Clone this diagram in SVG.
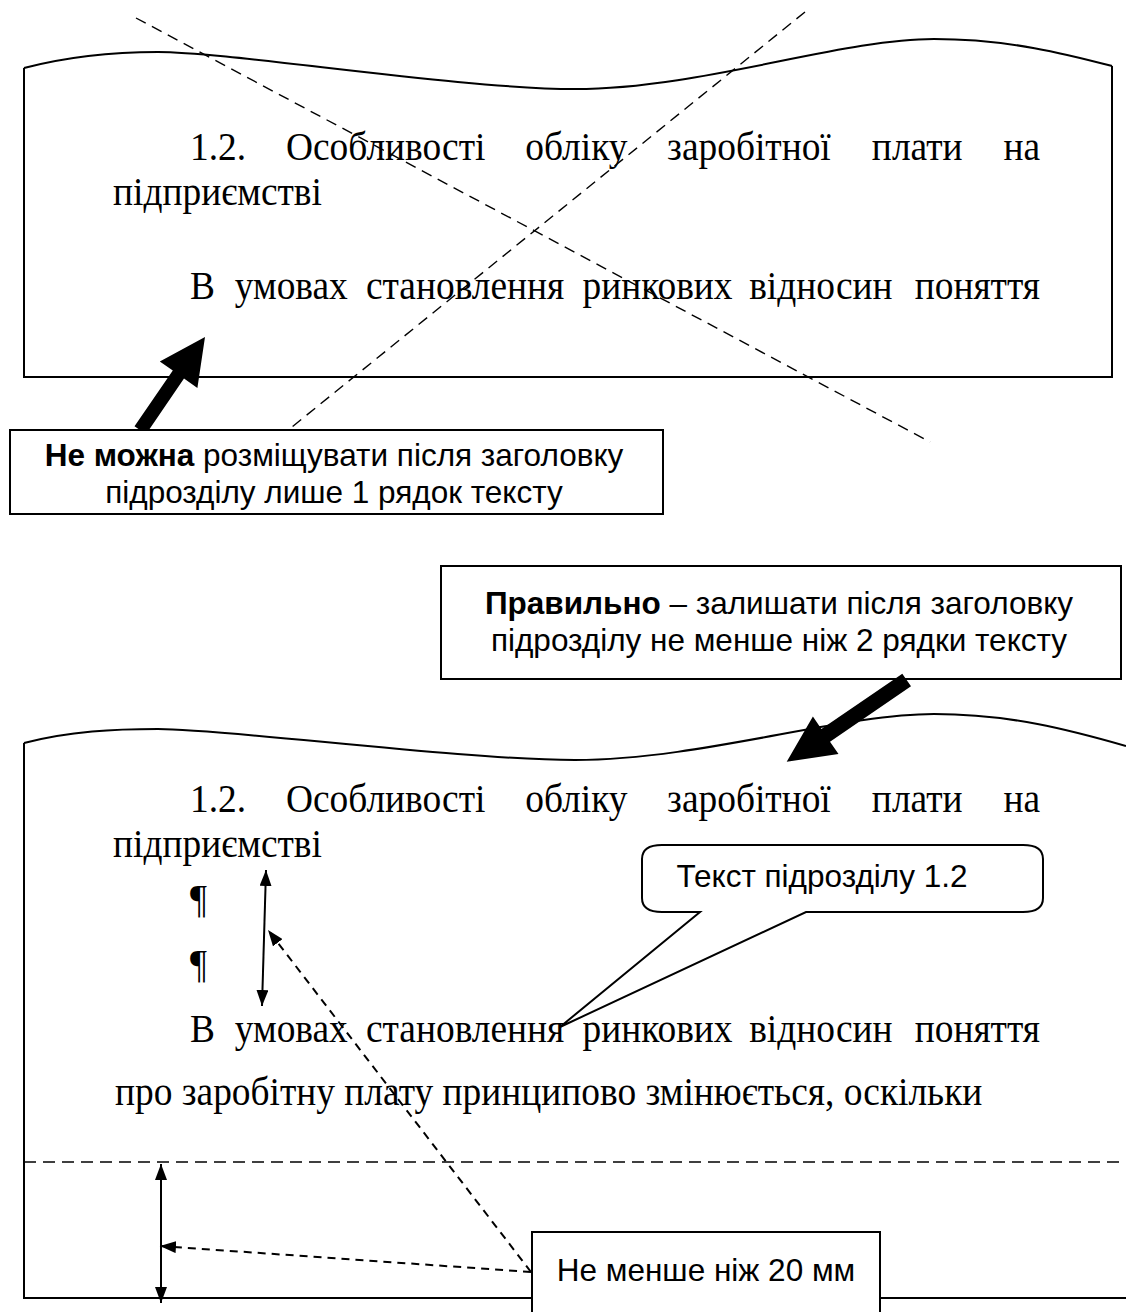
<svg xmlns="http://www.w3.org/2000/svg" width="1126" height="1312" viewBox="0 0 1126 1312">
<style>
.pg{fill:none;stroke:#000;stroke-width:2}
.box{fill:#fff;stroke:#000;stroke-width:2}
.xd{fill:none;stroke:#000;stroke-width:1.4;stroke-dasharray:11 7}
.body{font-family:"Liberation Serif","Times New Roman",serif;font-size:40px;fill:#000}
.lbl{font-family:"Liberation Sans",Arial,sans-serif;font-size:31.5px;fill:#000;text-anchor:middle}
.b{font-weight:bold}
.conn{fill:none;stroke:#000;stroke-width:2;stroke-dasharray:8 6}
.dbl{fill:none;stroke:#000;stroke-width:2}
</style>
<defs>
<marker id="ah" viewBox="0 0 16 12" refX="16" refY="6" markerWidth="16" markerHeight="12" markerUnits="userSpaceOnUse" orient="auto-start-reverse"><path d="M0,0 L16,6 L0,12 z" fill="#000"/></marker>
</defs>

<g id="page-wrong">
<path class="pg" d="M24,68 C70,56 115,52 158,52 C230,52 460,89 575,89 C700,89 840,39 934,39 C1010,39 1070,55 1112,66"/>
<path class="pg" d="M24,68 L24,377 L1112,377 L1112,66"/>
<g transform="scale(0.935,1)">
<text class="body" y="160"><tspan x="203.2">1.2.</tspan><tspan x="305.9">Особливості</tspan><tspan x="561.8">обліку</tspan><tspan x="713.5">заробітної</tspan><tspan x="932.5">плати</tspan></text>
<text class="body" x="1112.3" y="160" text-anchor="end">на</text>
<text class="body" x="120.9" y="205">підприємстві</text>
<text class="body" y="299"><tspan x="203.2">В</tspan><tspan x="251.1">умовах</tspan><tspan x="391.4">становлення</tspan><tspan x="623">ринкових</tspan><tspan x="801.3">відносин</tspan></text>
<text class="body" x="1112.3" y="299" text-anchor="end">поняття</text>
</g>
<line class="xd" x1="136" y1="18" x2="930" y2="442"/>
<line class="xd" x1="805" y1="12" x2="287" y2="431"/>
</g>

<g id="arrow-wrong">
<polygon points="205,337 197.4,387.9 184,378.5 146,434.2 134.5,426.2 172.8,370.6 159.8,361.5" fill="#000"/>
</g>

<g id="box-wrong">
<rect class="box" x="10" y="430" width="653" height="84"/>
<text class="lbl" x="334" y="466"><tspan class="b">Не можна</tspan> розміщувати після заголовку</text>
<text class="lbl" x="334" y="503">підрозділу лише 1 рядок тексту</text>
</g>

<g id="box-right">
<rect class="box" x="441" y="566" width="680" height="113"/>
<text class="lbl" x="779" y="614"><tspan class="b">Правильно</tspan> – залишати після заголовку</text>
<text class="lbl" x="779" y="651">підрозділу не менше ніж 2 рядки тексту</text>
</g>

<g id="arrow-right">
<polygon points="786.7,761.7 838.5,754.1 830,741.7 911,686.3 902.3,673.7 821.4,728.9 812.9,716.5" fill="#000"/>
</g>

<g id="page-right">
<path class="pg" d="M24,743 C70,731 115,729 158,729 C230,729 460,760 575,760 C700,760 840,714 934,714 C1010,714 1070,730 1126,746"/>
<path class="pg" d="M24,743 L24,1298 L1126,1298"/>
<line x1="24" y1="1162" x2="1126" y2="1162" stroke="#000" stroke-width="1.6" stroke-dasharray="12 7"/>
<g transform="scale(0.935,1)">
<text class="body" y="812"><tspan x="203.2">1.2.</tspan><tspan x="305.9">Особливості</tspan><tspan x="561.8">обліку</tspan><tspan x="713.5">заробітної</tspan><tspan x="932.5">плати</tspan></text>
<text class="body" x="1112.3" y="812" text-anchor="end">на</text>
<text class="body" x="120.9" y="857">підприємстві</text>
<text class="body" x="203.2" y="912">¶</text>
<text class="body" x="203.2" y="977">¶</text>
<text class="body" y="1042"><tspan x="203.2">В</tspan><tspan x="251.1">умовах</tspan><tspan x="391.4">становлення</tspan><tspan x="623">ринкових</tspan><tspan x="801.3">відносин</tspan></text>
<text class="body" x="1112.3" y="1042" text-anchor="end">поняття</text>
<text class="body" x="123" y="1105">про заробітну плату принципово змінюється, оскільки</text>
</g>
</g>

<g id="callout">
<path class="box" d="M662,845 L1023,845 Q1043,845 1043,859 L1043,898 Q1043,912 1023,912 L806,912 L560,1027 L700,912 L662,912 Q642,912 642,898 L642,859 Q642,845 662,845 Z"/>
<text class="lbl" x="822" y="887">Текст підрозділу 1.2</text>
</g>

<g id="box-20mm">
<rect class="box" x="532" y="1232" width="348" height="95"/>
<text class="lbl" x="706" y="1281">Не менше ніж 20 мм</text>
</g>

<g id="connectors">
<path class="dbl" d="M266,870 L262,1006" marker-start="url(#ah)" marker-end="url(#ah)"/>
<path class="dbl" d="M161,1164 L161,1303" marker-start="url(#ah)" marker-end="url(#ah)"/>
<path class="conn" d="M531,1272 L268,930" marker-end="url(#ah)"/>
<path class="conn" d="M531,1272 L160,1246" marker-end="url(#ah)"/>
</g>
</svg>
